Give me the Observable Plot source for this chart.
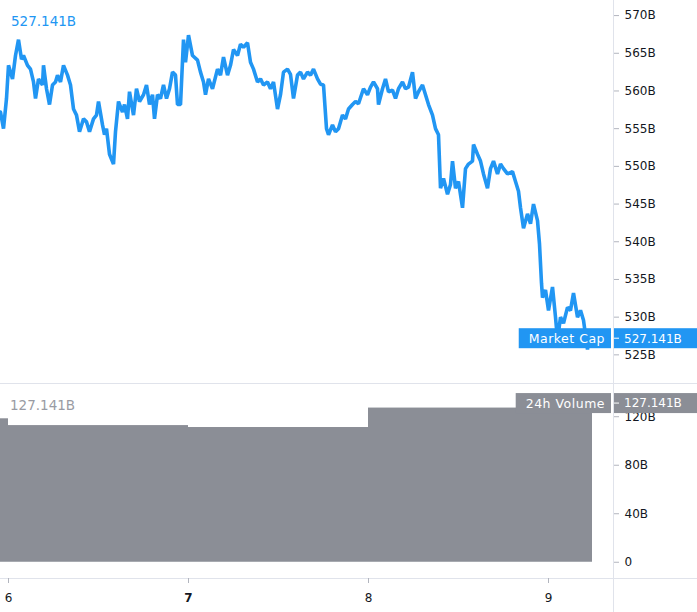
<!DOCTYPE html>
<html><head><meta charset="utf-8">
<script src="https://cdn.jsdelivr.net/npm/d3@7"></script>
<script src="https://cdn.jsdelivr.net/npm/@observablehq/plot@0.6"></script>
<style>
html,body{margin:0;padding:0;background:#fff;}
#chart{position:relative;width:697px;height:612px;overflow:hidden;font-family:"DejaVu Sans",sans-serif;}
#price,#volume{position:absolute;left:0;}
#price{top:0;}
#volume{top:383px;}
.sep{position:absolute;background:#e0e3eb;}
</style></head><body>
<div id="chart">
  <div class="sep" style="left:613px;top:0;width:1px;height:612px"></div>
  <div class="sep" style="left:0;top:383px;width:697px;height:1px"></div>
  <div class="sep" style="left:0;top:578px;width:697px;height:1px"></div>
  <div id="price"></div>
  <div id="volume"></div>
</div>
<script>
// ---- data (time in minutes from day 6, 00:00) ----
const dayTicks = [0, 1440, 2880, 4320];
const dayLabels = ["6", "7", "8", "9"];
const priceTicks = [525, 530, 535, 540, 545, 550, 555, 560, 565, 570];
const volTicks = [0, 40, 80, 120];

const capTime = [-64,-40,-16,0,32,56,80,104,120,152,
176,200,216,240,272,280,304,328,352,376,
392,416,440,472,496,520,544,568,600,624,
648,680,704,720,752,768,784,808,840,856,
880,912,928,952,968,1000,1024,1048,1080,1104,
1128,1152,1168,1192,1216,1240,1264,1288,1312,1336,
1352,1376,1400,1416,1440,1472,1512,1536,1560,1576,
1600,1632,1672,1696,1720,1752,1776,1800,1832,1856,
1880,1912,1936,1960,1992,2016,2040,2072,2096,2120,
2152,2176,2200,2232,2256,2280,2312,2336,2360,2392,
2416,2440,2472,2496,2520,2544,2560,2592,2616,2640,
2672,2696,2720,2752,2776,2800,2840,2872,2896,2920,
2952,2960,2992,3016,3040,3072,3096,3120,3152,3176,
3200,3232,3256,3280,3312,3336,3360,3392,3416,3440,
3456,3480,3512,3536,3552,3576,3600,3632,3656,3680,
3712,3720,3752,3776,3800,3832,3856,3880,3912,3936,
3960,3992,4032,4056,4080,4096,4120,4152,4176,4200,
4232,4248,4264,4272,4296,4320,4352,4376,4392,4416,
4440,4472,4496,4520,4552,4576,4600,4632,4640];

const capValue = [557.2,555.0,559.0,563.4,561.6,564.7,566.8,564.2,564.7,563.4,
562.9,561.2,559.0,561.6,560.8,563.4,560.3,558.2,560.8,561.2,
562.1,561.2,563.4,562.1,560.8,557.6,556.8,554.6,556.3,555.9,
554.6,556.3,556.8,558.6,555.5,554.2,555.0,551.6,550.3,554.6,
558.6,557.2,558.2,556.3,559.9,556.8,560.3,558.6,559.5,560.8,
558.2,559.5,556.3,559.5,559.0,560.8,559.0,560.3,562.5,562.1,
558.2,558.2,566.8,563.8,567.4,564.7,564.1,562.5,561.2,559.5,
561.6,560.3,562.9,562.1,564.5,562.1,563.4,565.5,564.7,566.2,
565.8,566.4,563.8,562.9,561.2,561.6,560.8,561.2,560.3,561.2,
557.6,559.5,562.5,562.9,562.2,559.0,562.1,562.5,561.6,562.5,
562.1,562.9,561.6,560.9,560.8,555.0,554.2,555.5,554.6,555.0,
556.8,556.3,557.6,558.2,558.6,558.3,560.3,559.5,560.5,561.2,
560.3,558.2,560.3,561.6,559.9,560.1,559.0,560.3,561.2,560.3,
560.5,562.5,559.0,559.9,560.8,559.5,558.2,556.8,555.0,554.2,
547.1,548.4,546.3,547.6,550.7,547.1,548.0,544.5,549.7,550.3,
550.7,552.9,551.6,550.7,549.0,547.1,549.7,550.7,549.0,550.3,
549.7,549.0,549.3,548.0,546.7,544.5,541.8,543.7,542.4,545.0,
542.8,539.7,534.5,532.6,533.6,530.9,534.0,530.0,527.0,530.0,
529.2,531.3,530.9,533.2,530.0,530.9,529.6,525.7,527.1];

const volStart = [-1440, 0, 1440, 2880];
const volEnd = [0, 1440, 2880, 4672];
const volValue = [118.3, 112.7, 111.1, 127.141];

const lastCap = 527.141;
const lastVol = 127.141;
const capLabel = "Market Cap";
const volLabel = "24h Volume";

// ---- layout ----
const W = 697, MR = 84, PRICE_H = 383, VOL_H = 229;
const xDomain = [-64, 4840];
const BLUE = "#2196f3", GRAY = "#8b8e96", TICK = "#b2b5be", TEXT = "#131722";

const capData = capTime.map((t, i) => ({t, v: capValue[i]}));
const volData = volStart.map((s, i) => ({x1: s, x2: volEnd[i], v: volValue[i]}));
const fmtB = d => d3.format(".3f")(d) + "B";

const style = {background: "transparent", color: TEXT, fontFamily: "DejaVu Sans, sans-serif", fontSize: "12px", overflow: "visible"};

const price = Plot.plot({
  width: W, height: PRICE_H,
  marginLeft: 0, marginRight: MR, marginTop: 0, marginBottom: 0,
  style,
  x: {domain: xDomain, axis: null},
  y: {domain: [521.2, 572.0], axis: "right", ticks: priceTicks, tickFormat: d => d + "B", tickSize: 5, tickPadding: 6, label: null},
  marks: [
    Plot.line(capData, {x: "t", y: "v", stroke: BLUE, strokeWidth: 3.6, strokeLinejoin: "miter", clip: true})
  ]
});

const volume = Plot.plot({
  width: W, height: VOL_H,
  marginLeft: 0, marginRight: MR, marginTop: 0, marginBottom: 34,
  style,
  x: {domain: xDomain, ticks: dayTicks, tickFormat: d => dayLabels[dayTicks.indexOf(d)], tickSize: 5, tickPadding: 10, label: null},
  y: {domain: [-13.4, 147.4], axis: "right", ticks: volTicks, tickFormat: d => d === 0 ? "0" : d + "B", tickSize: 5, tickPadding: 6, label: null},
  marks: [
    Plot.rect(volData, {x1: "x1", x2: "x2", y1: 0, y2: "v", fill: GRAY, clip: true})
  ]
});

document.getElementById("price").appendChild(price);
document.getElementById("volume").appendChild(volume);

function styleTicks(svg) {
  const s = d3.select(svg);
  s.selectAll('g[aria-label$="axis tick"]').attr("stroke", TICK);
  s.selectAll('g[aria-label$="-axis"] line').attr("stroke", TICK);
}
styleTicks(price);
styleTicks(volume);
d3.select(volume).selectAll("text").filter(function() { return this.textContent === "7"; }).attr("font-weight", "bold");

function badge(svg, yc, leftText, rightText, fill) {
  const s = d3.select(svg);
  const edge = W - MR;
  const g = s.append("g").attr("font-family", "DejaVu Sans, sans-serif").attr("text-anchor", "start");
  const lt = g.append("text").attr("font-size", 12.5).attr("letter-spacing", 0.5).attr("fill", "#fff").attr("dy", "0.36em").attr("y", yc).text(leftText);
  const tw = lt.node().getComputedTextLength();
  const padL = 10, padR = 6;
  g.insert("rect", "text").attr("x", edge - 2 - tw - padL - padR).attr("y", yc - 10).attr("width", tw + padL + padR).attr("height", 20).attr("fill", fill);
  lt.attr("x", edge - 2 - padR - tw);
  g.append("rect").attr("x", edge + 1).attr("y", yc - 10).attr("width", MR - 1).attr("height", 20).attr("fill", fill);
  g.append("line").attr("x1", edge + 1).attr("x2", edge + 6).attr("y1", yc).attr("y2", yc).attr("stroke", "#fff");
  g.append("text").attr("font-size", 12).attr("fill", "#fff").attr("dy", "0.36em").attr("x", edge + 11).attr("y", yc).text(rightText);
}

const yP = price.scale("y");
badge(price, yP.apply(lastCap), capLabel, fmtB(lastCap), BLUE);
const yV = volume.scale("y");
badge(volume, yV.apply(lastVol) - 4.5, volLabel, fmtB(lastVol), GRAY);

d3.select(price).append("text").attr("text-anchor", "start").attr("x", 11).attr("y", 26).attr("font-size", 13.5).attr("fill", BLUE).text(fmtB(lastCap));
d3.select(volume).append("text").attr("text-anchor", "start").attr("x", 10).attr("y", 27).attr("font-size", 13.5).attr("fill", "#999ba3").text(fmtB(lastVol));
</script>
</body></html>
